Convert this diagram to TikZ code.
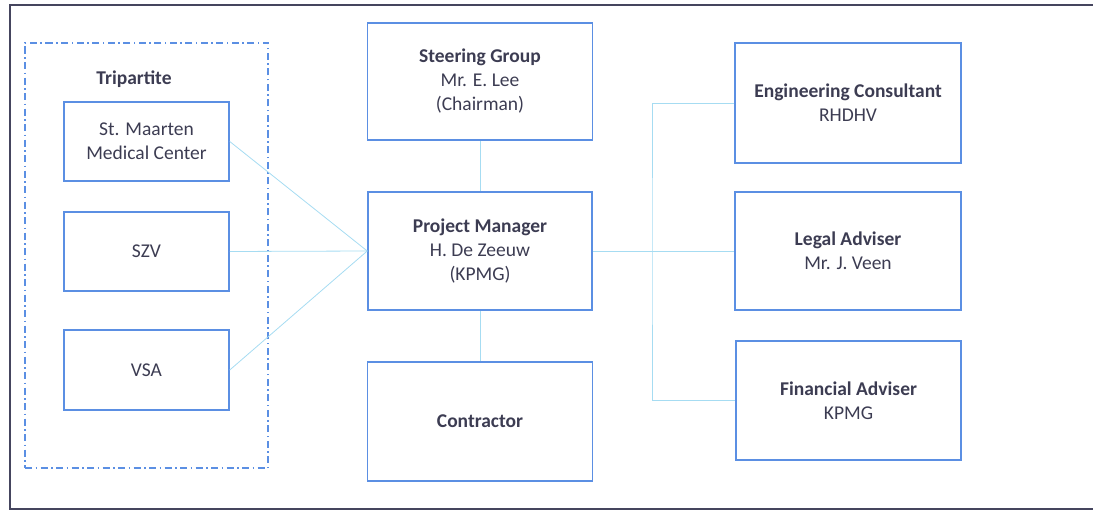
\documentclass[tikz,border=0pt]{standalone}
\usepackage{fontspec}
\setmainfont{Carlito}
\usepackage{tikz}
\usetikzlibrary{positioning,calc}
\definecolor{boxblue}{HTML}{5B8FE3}
\definecolor{linkblue}{HTML}{A6DCF2}
\definecolor{inkgray}{HTML}{3C3C52}
\definecolor{framegray}{HTML}{45455E}

\begin{document}
\begin{tikzpicture}[x=1pt,y=-1pt]
        \tikzstyle{box}=[rectangle, draw=boxblue, line width=1.5pt, text=inkgray, align=center, inner sep=0pt, font=\fontsize{19.5}{24}\selectfont]
        \tikzstyle{link}=[draw=linkblue, line width=0.8pt]

        \useasboundingbox (0,0) rectangle (1093,511);
        \draw[framegray, line width=1.6pt] (1093,5) -- (10,5) -- (10,509) -- (1093,509);

        \node[box, line width=1.3pt, dash pattern=on 7pt off 3.5pt on 1.5pt off 3.5pt, minimum width=243, minimum height=425] (tri) at (146.5,255.5) {};
        \node[text=inkgray, font=\fontsize{19.5}{24}\selectfont\bfseries] (trilabel) at (134,79) {Tripartite};

        \node[box, minimum width=165, minimum height=79] (smmc) at (146.5,141.5) {St. Maarten\\Medical Center};
        \node[box, minimum width=165, minimum height=79] (szv) at (146.5,251.5) {SZV};
        \node[box, minimum width=165, minimum height=80] (vsa) at (146.5,370) {VSA};

        \node[box, minimum width=225, minimum height=117] (steer) at (480,81.5) {\textbf{Steering Group}\\Mr. E. Lee\\(Chairman)};
        \node[box, minimum width=224, minimum height=118] (pm) at (480,251) {\textbf{Project Manager}\\H. De Zeeuw\\(KPMG)};
        \node[box, minimum width=225, minimum height=119] (contr) at (480,421.5) {\textbf{Contractor}};

        \node[box, minimum width=226, minimum height=120] (eng) at (848,103) {\textbf{Engineering Consultant}\\RHDHV};
        \node[box, minimum width=226, minimum height=118] (legal) at (848,251) {\textbf{Legal Adviser}\\Mr. J. Veen};
        \node[box, minimum width=225, minimum height=119] (fin) at (848.5,400.5) {\textbf{Financial Adviser}\\KPMG};

        \coordinate (bus) at (652,251);

        \draw[link] (smmc.east) -- (pm.west);
        \draw[link] (szv.east) -- (pm.west);
        \draw[link] (vsa.east) -- (pm.west);
        \draw[link] (steer) -- (pm);
        \draw[link] (pm) -- (contr);
        \draw[link] (pm.east) -- (legal.west);
        \draw[link] (eng.west) -| (bus) |- (fin.west);
    \end{tikzpicture}
\end{document}
